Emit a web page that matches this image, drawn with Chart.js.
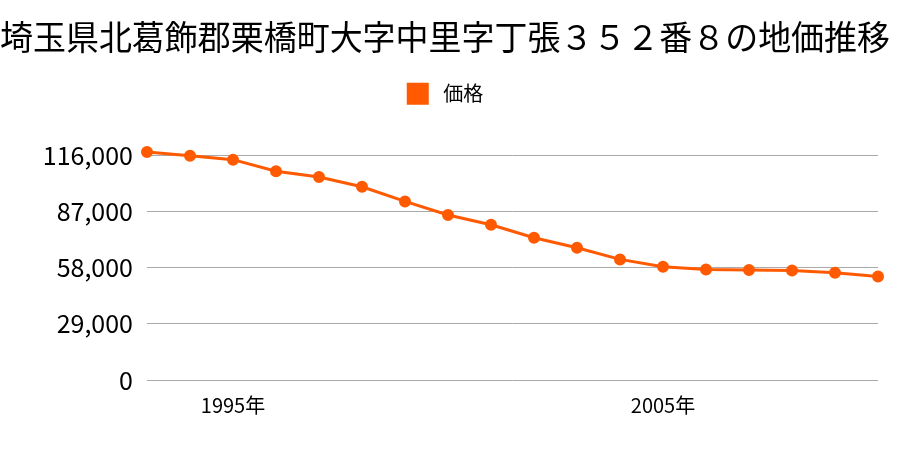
<!DOCTYPE html>
<html>
<head>
<meta charset="utf-8">
<script src="https://cdn.jsdelivr.net/npm/chart.js@4.4.0/dist/chart.umd.min.js"></script>
<style>
  html, body { margin: 0; padding: 0; background: #fff; }
  #wrap { width: 900px; height: 450px; }
</style>
</head>
<body>
<div id="wrap"><canvas id="c" width="900" height="450"></canvas></div>
<script>
// values
const years = ['1993', '1994', '1995', '1996', '1997', '1998', '1999', '2000', '2001',
               '2002', '2003', '2004', '2005', '2006', '2007', '2008', '2009', '2010'];
const prices = [118000, 116000, 114000, 108000, 105000, 100000, 92400, 85400, 80300,
                73600, 68400, 62400, 58600, 57200, 56900, 56700, 55500, 53600];
const shownYears = ['1995', '2005'];
const yTicks = [0, 29000, 58000, 87000, 116000];

const FONT = '"Noto Sans CJK JP", "Noto Sans", sans-serif';
const ORANGE = '#ff5a00';

// extra room between legend and plot
const legendGap = {
    id: 'legendGap',
    beforeInit(chart) {
        const fit = chart.legend.fit;
        chart.legend.fit = function () {
            fit.call(this);
            this.height += 41;
        };
    }
};

new Chart(document.getElementById('c'), {
    type: 'line',
    data: {
        labels: years,
        datasets: [{
            label: '価格',
            data: prices,
            borderColor: ORANGE,
            backgroundColor: ORANGE,
            pointBackgroundColor: ORANGE,
            pointBorderColor: ORANGE,
            borderWidth: 3,
            pointRadius: 4.5,
            tension: 0,
            clip: false
        }]
    },
    plugins: [legendGap],
    options: {
        responsive: false,
        animation: false,
        layout: { padding: { left: 0, right: 10, top: 0, bottom: 28 } },
        plugins: {
            title: {
                display: true,
                text: '埼玉県北葛飾郡栗橋町大字中里字丁張３５２番８の地価推移',
                color: '#000',
                font: { family: FONT, size: 34, weight: 'normal' },
                padding: { top: 17, bottom: 15 }
            },
            legend: {
                labels: {
                    color: '#000',
                    font: { family: FONT, size: 20 },
                    boxWidth: 22,
                    boxHeight: 22,
                    padding: 10,
                    generateLabels: () => [{
                        text: ' 価格',
                        fillStyle: ORANGE,
                        strokeStyle: ORANGE,
                        lineWidth: 0,
                        datasetIndex: 0
                    }]
                }
            },
            tooltip: { enabled: false }
        },
        scales: {
            x: {
                offset: false,
                grid: { display: false },
                border: { display: false },
                ticks: {
                    autoSkip: false,
                    maxRotation: 0,
                    color: '#000',
                    font: { family: FONT, size: 20 },
                    padding: 5,
                    callback: function (v) {
                        const y = this.getLabelForValue(v);
                        return shownYears.includes(y) ? y + '年' : '';
                    }
                }
            },
            y: {
                min: 0,
                max: 116000,
                afterBuildTicks: (axis) => { axis.ticks = yTicks.map(v => ({ value: v })); },
                afterFit: (axis) => { axis.width = 147; },
                grid: { color: '#aaaaaa', drawTicks: false, lineWidth: 1 },
                border: { display: false },
                ticks: {
                    color: '#000',
                    font: { family: FONT, size: 25 },
                    padding: 14,
                    callback: (v) => v.toLocaleString('en-US')
                }
            },
            spacer: {
                type: 'linear',
                position: 'right',
                grid: { display: false },
                border: { display: false },
                ticks: { display: false },
                afterFit: (axis) => { axis.width = 12; }
            }
        }
    }
});
</script>
</body>
</html>
